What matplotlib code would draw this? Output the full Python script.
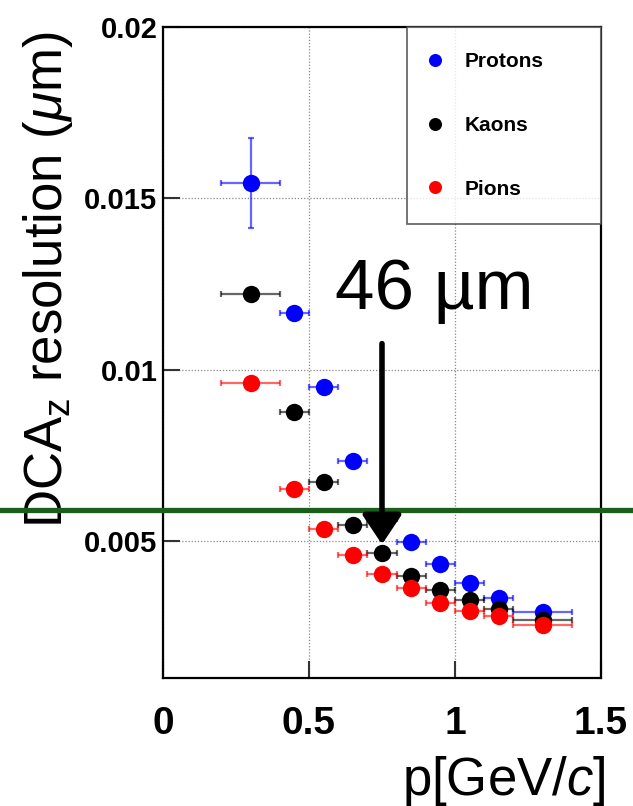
import matplotlib
matplotlib.use("Agg")
import matplotlib.pyplot as plt
import matplotlib.transforms as mtransforms
from matplotlib.lines import Line2D

# Fonts
plt.rcParams["font.family"] = ["Liberation Sans", "DejaVu Sans"]
plt.rcParams["mathtext.fontset"] = "custom"
plt.rcParams["mathtext.rm"] = "Liberation Sans"
plt.rcParams["mathtext.it"] = "Liberation Sans:italic"

# Data (momentum bins)
p_center = [0.3, 0.45, 0.55, 0.65, 0.75, 0.85, 0.95, 1.05, 1.15, 1.3]
p_halfwidth = [0.1, 0.05, 0.05, 0.05, 0.05, 0.05, 0.05, 0.05, 0.05, 0.1]

protons = [0.01544, 0.01164, 0.00948, 0.00732, 0.00563, 0.00498, 0.00432, 0.00378, 0.00334, 0.00294]
protons_err = [0.00132, 0.00012, 0.00006, 0.00005, 0.00004, 0.00003, 0.00003, 0.00003, 0.00003, 0.00003]
kaons = [0.0122, 0.00875, 0.00673, 0.00546, 0.00464, 0.00399, 0.00357, 0.00328, 0.00301, 0.00270]
pions = [0.0096, 0.00653, 0.00536, 0.0046, 0.00405, 0.00362, 0.00318, 0.00297, 0.0028, 0.00254]

series = [
    ("Protons", protons, protons_err, "#0000ff"),
    ("Kaons", kaons, None, "#000000"),
    ("Pions", pions, None, "#ff0000"),
]

x_ticks = [0, 0.5, 1, 1.5]
x_ticklabels = ["0", "0.5", "1", "1.5"]
y_ticks = [0.005, 0.01, 0.015, 0.02]
y_ticklabels = ["0.005", "0.01", "0.015", "0.02"]

# Annotation
limit_value = 0.0059
arrow_x = 0.75
arrow_from = 0.01076
arrow_to = 0.0049

fig = plt.figure(figsize=(6.33, 8.06), dpi=100)
ax = fig.add_axes([0.2575, 0.1588, 0.6919, 0.8077])

for name, vals, yerr, color in series:
    ax.errorbar(
        p_center, vals, xerr=p_halfwidth, yerr=yerr,
        fmt="none", ecolor=color, alpha=0.6, elinewidth=1.6,
        capsize=2, capthick=1.6, zorder=3,
    )
    ax.plot(p_center, vals, "o", color=color, markersize=12.5,
            markeredgewidth=0, zorder=4, label=name)

ax.set_xlim(0, 1.5)
ax.set_ylim(0.001, 0.02)
ax.set_xticks(x_ticks)
ax.set_xticklabels(x_ticklabels, fontsize=28, fontweight="bold")
ax.set_yticks(y_ticks)
ax.set_yticklabels(y_ticklabels, fontsize=21, fontweight="bold")
ax.tick_params(axis="both", direction="in", length=12, width=1.5, color="#333333")
ax.tick_params(axis="x", pad=20)
ax.tick_params(axis="y", pad=4)
ax.minorticks_off()
ax.grid(True, linestyle=(0, (1, 1.5)), color="#888888", linewidth=0.9)
for sp in ax.spines.values():
    sp.set_linewidth(1.6)

ax.set_ylabel(r"DCA$_\mathrm{z}$ resolution ($\mu$m)", fontsize=38)
ax.yaxis.set_label_coords(-0.2, 0.612)
ax.set_xlabel(r"p[GeV/$c$]", fontsize=38, ha="right")
ax.xaxis.set_label_coords(1.01, -0.117)

leg = ax.legend(
    loc="upper left", bbox_to_anchor=(0.557, 0.7035, 0.443, 0.2965), mode="expand",
    prop={"size": 15, "weight": "bold"}, frameon=True, fancybox=False,
    borderaxespad=0, borderpad=1.2, handlelength=0.3, handletextpad=1.25,
    labelspacing=2.15, markerscale=0.75,
)
leg.get_frame().set_edgecolor("#444444")
leg.get_frame().set_linewidth(1.3)
leg.set_zorder(5)

# Horizontal reference line across the whole figure
trans = mtransforms.blended_transform_factory(fig.transFigure, ax.transData)
ax.add_line(Line2D([0, 1], [limit_value, limit_value], transform=trans,
                   color="#1b5e1b", linewidth=3.8, clip_on=False, zorder=6))

# Arrow and label
ax.annotate(
    "", xy=(arrow_x, arrow_to), xytext=(arrow_x, arrow_from),
    arrowprops=dict(arrowstyle="-|>,head_length=0.45,head_width=0.3",
                    color="black", lw=4, mutation_scale=40,
                    shrinkA=0, shrinkB=0),
    zorder=7,
)
ax.text(0.589, 0.01178, "46 µm", fontsize=51, va="baseline", ha="left", zorder=7)

fig.savefig("out.png", dpi=100)
